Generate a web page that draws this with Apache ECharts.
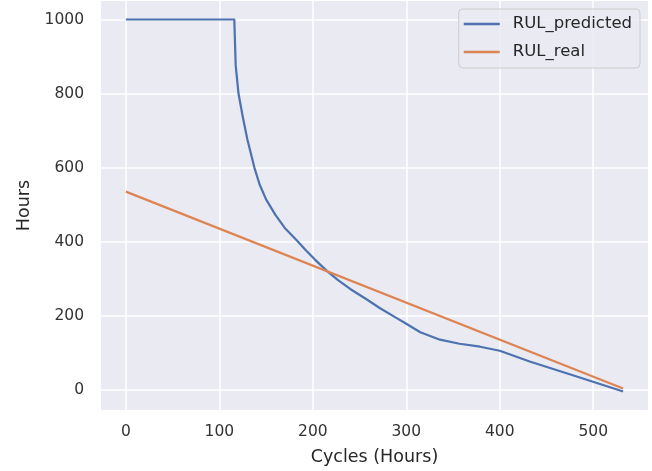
<!DOCTYPE html>
<html>
<head>
<meta charset="utf-8">
<script src="https://cdn.jsdelivr.net/npm/echarts@6/dist/echarts.min.js"></script>
<style>
  html, body { margin: 0; padding: 0; background: #fff; }
</style>
</head>
<body>
<div id="rulChart" style="width: 652px; height: 471px;"></div>
<script>
// data
var predX = [0, 116, 117.5, 120.5, 125, 130, 137.5, 143, 150, 160, 170, 183, 192, 202, 215, 227, 240, 257, 272, 288, 300, 315, 336, 357, 379, 400, 432, 479, 532];
var predY = [1000, 1000, 876, 800, 738, 676, 600, 555, 514, 472, 437, 403, 378, 352, 321, 296, 272, 245, 220, 196, 178, 155, 135, 124, 116, 105, 76, 38, -5];
var realX = [0, 532];
var realY = [535, 3];
var xTicks = [0, 100, 200, 300, 400, 500];
var yTicks = [0, 200, 400, 600, 800, 1000];

function pairs(xs, ys) {
  return xs.map(function (x, i) { return [x, ys[i]]; });
}

var myChart = echarts.init(document.getElementById("rulChart"));
var font = "DejaVu Sans";
var option = {
  backgroundColor: '#fff',
  color: ['#4C72B0', '#DD8452'],
  textStyle: { fontFamily: font },
  grid: {
    left: 101,
    top: 1,
    width: 547,
    height: 409,
    show: true,
    backgroundColor: '#EAEAF2',
    borderWidth: 0
  },
  legend: {
    orient: 'vertical',
    right: 12,
    top: 9,
    padding: [5, 8, 6, 5],
    itemGap: 8,
    itemWidth: 36,
    itemHeight: 2.5,
    icon: 'rect',
    backgroundColor: 'rgba(234,234,242,0.8)',
    borderColor: '#cccccc',
    borderWidth: 1,
    borderRadius: 4,
    textStyle: {
      fontFamily: font,
      fontSize: 16.5,
      lineHeight: 20,
      color: '#262626',
      padding: [0, 0, 0, 8]
    },
    data: ['RUL_predicted', 'RUL_real']
  },
  xAxis: {
    type: 'value',
    min: -26.6,
    max: 558.6,
    name: 'Cycles (Hours)',
    nameLocation: 'middle',
    nameGap: 38,
    nameTextStyle: { fontFamily: font, fontSize: 17.5, color: '#262626' },
    axisLine: { show: false },
    axisTick: { show: false, customValues: xTicks },
    axisLabel: {
      customValues: xTicks,
      margin: 14,
      fontFamily: font,
      fontSize: 15.5,
      color: '#333',
      formatter: function (v) { return String(v); }
    },
    splitLine: { show: true, lineStyle: { color: '#fff', width: 1.5 } }
  },
  yAxis: {
    type: 'value',
    min: -55,
    max: 1050,
    name: 'Hours',
    nameLocation: 'middle',
    nameGap: 60,
    nameRotate: 90,
    nameTextStyle: { fontFamily: font, fontSize: 17.5, color: '#262626' },
    axisLine: { show: false },
    axisTick: { show: false, customValues: yTicks },
    axisLabel: {
      customValues: yTicks,
      margin: 17,
      fontFamily: font,
      fontSize: 15.5,
      color: '#333',
      formatter: function (v) { return String(v); }
    },
    splitLine: { show: true, lineStyle: { color: '#fff', width: 1.5 } }
  },
  series: [{
    name: 'RUL_predicted',
    type: 'line',
    showSymbol: false,
    lineStyle: { width: 2.2, join: 'round' },
    data: pairs(predX, predY)
  }, {
    name: 'RUL_real',
    type: 'line',
    showSymbol: false,
    lineStyle: { width: 2.2 },
    data: pairs(realX, realY)
  }]
};
myChart.setOption(option);
</script>
</body>
</html>
